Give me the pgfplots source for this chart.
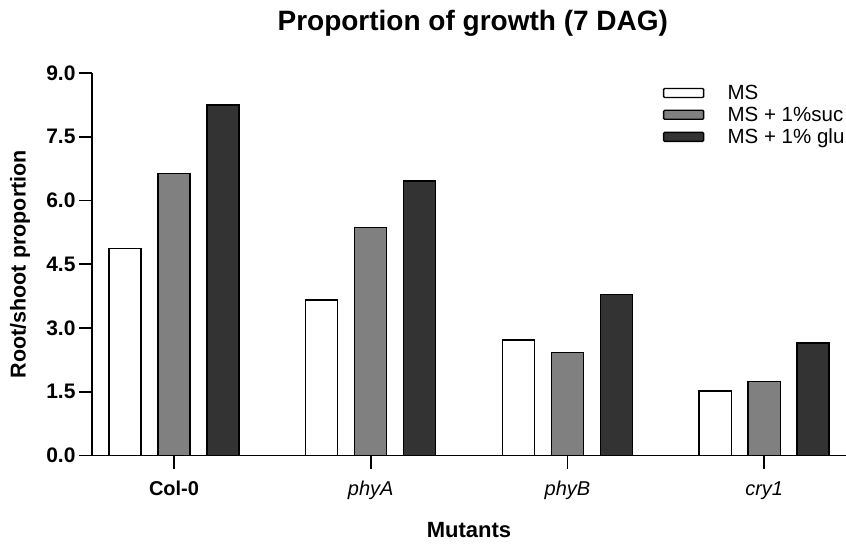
\documentclass[border=0pt]{standalone}
\usepackage{pgfplots}
\pgfplotsset{compat=1.18}
\usepackage{fontspec}
\setmainfont{Liberation Sans}

\definecolor{barmid}{HTML}{808080}
\definecolor{bardark}{HTML}{333333}

\pgfplotsset{
  swatch/.style={
    /pgfplots/legend image code/.code={%
      \draw[##1, line width=1.3pt, rounded corners=1pt] (0pt,-4.5pt) rectangle (40pt,4.5pt);
      \path[draw=none, fill=none] (40pt,0pt) -- (64pt,0pt);}
  }
}

\begin{document}
\begin{tikzpicture}
\begin{axis}[
  scale only axis,
  width=754pt, height=382.5pt,
  xmin=-0.417, xmax=3.416,
  ymin=0, ymax=9,
  axis x line=bottom, axis y line=left,
  axis line style={-, line width=1.6pt},
  ytick={0,1.5,3,4.5,6,7.5,9},
  yticklabel style={font=\fontsize{21}{22}\selectfont\bfseries, anchor=east, xshift=0pt},
  /pgf/number format/fixed,
  /pgf/number format/fixed zerofill,
  /pgf/number format/precision=1,
  /pgf/number format/assume math mode=true,
  xtick={0,1,2,3},
  xticklabels={\textbf{Col-0},\textit{phyA},\textit{phyB},\textit{cry1}},
  xticklabel style={font=\fontsize{20}{22}\selectfont, anchor=base, yshift=-26.5pt},
  tick align=outside,
  major tick length=13pt,
  tick style={line width=1.6pt, black},
  xlabel={Mutants},
  ylabel={Root/shoot proportion},
  xlabel style={font=\fontsize{22}{24}\selectfont\bfseries, at={(axis description cs:0.5,-0.196)}, anchor=center},
  ylabel style={font=\fontsize{21.5}{24}\selectfont\bfseries, at={(axis description cs:-0.0955,0.5)}, anchor=center, rotate=0},
  title={Proportion of growth (7 DAG)},
  title style={font=\fontsize{28}{30}\selectfont\bfseries, at={(axis description cs:0.505,1.095)}, anchor=base},
  legend style={draw=none, fill=none, at={(rel axis cs:0.757,0.969)}, anchor=north west,
    font=\fontsize{20.5}{22}\selectfont, inner sep=0pt, row sep=6pt,
    nodes={inner sep=0pt}},
  legend cell align=left,
  ybar, bar width=0.163,
  clip=false,
]
% plain MS medium
\addplot[ybar, bar shift=-0.249, fill=white, draw=black, line width=1.4pt, swatch]
  coordinates {(0,4.87) (1,3.66) (2,2.72) (3,1.52)};
% MS + 1% sucrose
\addplot[ybar, bar shift=0, fill=barmid, draw=black, line width=1.4pt, swatch]
  coordinates {(0,6.64) (1,5.37) (2,2.43) (3,1.74)};
% MS + 1% glucose
\addplot[ybar, bar shift=0.249, fill=bardark, draw=black, line width=1.4pt, swatch]
  coordinates {(0,8.25) (1,6.46) (2,3.79) (3,2.65)};
\legend{MS, MS + 1\%suc, MS + 1\% glu}
\end{axis}
\pgfresetboundingbox
\path[use as bounding box] (-92pt,-88.5pt) rectangle (754pt,455.5pt);
\end{tikzpicture}
\end{document}
